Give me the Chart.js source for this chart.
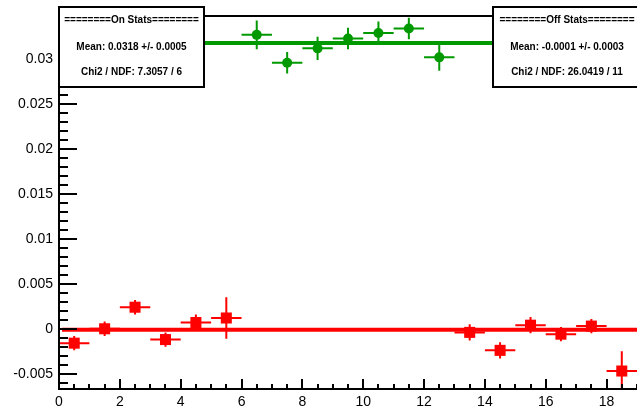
<!DOCTYPE html>
<html>
<head>
<meta charset="utf-8">
<script src="https://cdn.jsdelivr.net/npm/chart.js@4"></script>
<style>
  html, body { margin: 0; padding: 0; background: #fff; }
  canvas { display: block; }
</style>
</head>
<body>
<canvas id="statsChart" width="637" height="408"></canvas>
<script>
// "On" bins (green)
const onBins = [6.5, 7.5, 8.5, 9.5, 10.5, 11.5, 12.5];
const onValues = [0.0327, 0.0296, 0.0312, 0.0323, 0.0329, 0.0334, 0.0302];
const onErrors = [0.0016, 0.0012, 0.0013, 0.0012, 0.0013, 0.0012, 0.0015];

// "Off" bins (red)
const offBins = [0.5, 1.5, 2.5, 3.5, 4.5, 5.5, 13.5, 14.5, 15.5, 16.5, 17.5, 18.5];
const offValues = [-0.0016, 0.0000, 0.0024, -0.0012, 0.0007, 0.0012, -0.0004, -0.0024, 0.0004, -0.0006, 0.0003, -0.0047];
const offErrors = [0.0008, 0.0008, 0.0008, 0.0008, 0.0009, 0.0023, 0.0009, 0.0009, 0.0009, 0.0008, 0.0008, 0.0022];

const binHalfWidth = 0.5;

// constant fits
const onMean = 0.0318;
const offMean = -0.0001;
const fitRange = [0.1, 19];

const onStats = ["========On Stats========", "Mean: 0.0318 +/- 0.0005", "Chi2 / NDF: 7.3057 / 6"];
const offStats = ["========Off Stats========", "Mean: -0.0001 +/- 0.0003", "Chi2 / NDF: 26.0419 / 11"];

const GREEN = "#009900";
const RED = "#ff0000";
const FONT = "'Liberation Sans', Arial, sans-serif";

// error bars (no caps, like ROOT)
function drawErrors(ctx, xs, ys, errs, color, sx, sy) {
  ctx.strokeStyle = color;
  ctx.lineWidth = 2;
  xs.forEach((b, i) => {
    const px = sx.getPixelForValue(b);
    const py = sy.getPixelForValue(ys[i]);
    ctx.beginPath();
    ctx.moveTo(sx.getPixelForValue(b - binHalfWidth), py);
    ctx.lineTo(sx.getPixelForValue(b + binHalfWidth), py);
    ctx.moveTo(px, sy.getPixelForValue(ys[i] + errs[i]));
    ctx.lineTo(px, sy.getPixelForValue(ys[i] - errs[i]));
    ctx.stroke();
  });
}

function drawStatsBox(ctx, x0, y0, w, h, lines) {
  ctx.fillStyle = "#fff";
  ctx.fillRect(x0, y0, w, h);
  ctx.strokeStyle = "#000";
  ctx.lineWidth = 2;
  ctx.strokeRect(x0, y0, w, h);
  ctx.fillStyle = "#000";
  ctx.font = "bold 10px " + FONT;
  ctx.textAlign = "center";
  ctx.textBaseline = "middle";
  const rows = [13, 40, 65];
  lines.forEach((t, i) => ctx.fillText(t, x0 + w / 2, y0 + rows[i]));
}

const rootStyle = {
  id: "rootStyle",
  beforeDatasetsDraw(chart) {
    const { ctx, chartArea: a, scales } = chart;
    ctx.save();
    ctx.beginPath();
    ctx.rect(a.left, a.top, a.right - a.left, a.bottom - a.top);
    ctx.clip();
    drawErrors(ctx, offBins, offValues, offErrors, RED, scales.x, scales.y);
    drawErrors(ctx, onBins, onValues, onErrors, GREEN, scales.x, scales.y);
    ctx.restore();
  },
  afterDraw(chart) {
    const { ctx, chartArea: a, scales } = chart;
    ctx.save();
    ctx.strokeStyle = "#000";
    ctx.lineWidth = 2;
    // frame: left, bottom, top
    ctx.beginPath();
    ctx.moveTo(a.right + 2, a.top);
    ctx.lineTo(a.left, a.top);
    ctx.lineTo(a.left, a.bottom);
    ctx.lineTo(a.right + 2, a.bottom);
    ctx.stroke();

    // y ticks inside the frame
    for (let i = -6; i <= 34; i++) {
      const py = Math.round(scales.y.getPixelForValue(i / 1000));
      const len = i % 5 === 0 ? 18 : 9;
      ctx.beginPath();
      ctx.moveTo(a.left, py);
      ctx.lineTo(a.left + len, py);
      ctx.stroke();
    }
    // x ticks
    for (let i = 1; i <= 38; i++) {
      const px = Math.round(scales.x.getPixelForValue(i / 2));
      const len = i % 4 === 0 ? 10 : 5;
      ctx.beginPath();
      ctx.moveTo(px, a.bottom);
      ctx.lineTo(px, a.bottom - len);
      ctx.stroke();
    }

    drawStatsBox(ctx, 59, 7, 145, 80, onStats);
    drawStatsBox(ctx, 493, 7, 148, 80, offStats);
    ctx.restore();
  }
};

const ctx = document.getElementById("statsChart").getContext("2d");

new Chart(ctx, {
  type: "scatter",
  data: {
    datasets: [
      {
        label: "on",
        data: onBins.map((b, i) => ({ x: b, y: onValues[i] })),
        pointStyle: "circle",
        pointRadius: 5,
        backgroundColor: GREEN,
        borderColor: GREEN,
        borderWidth: 0
      },
      {
        label: "off",
        data: offBins.map((b, i) => ({ x: b, y: offValues[i] })),
        pointStyle: "rect",
        pointRadius: 7.8,
        backgroundColor: RED,
        borderColor: RED,
        borderWidth: 0
      },
      {
        label: "on fit",
        type: "line",
        data: fitRange.map(x => ({ x: x, y: onMean })),
        borderColor: GREEN,
        borderWidth: 4,
        pointRadius: 0
      },
      {
        label: "off fit",
        type: "line",
        data: fitRange.map(x => ({ x: x, y: offMean })),
        borderColor: RED,
        borderWidth: 4,
        pointRadius: 0
      }
    ]
  },
  options: {
    responsive: false,
    animation: false,
    events: [],
    layout: {
      autoPadding: false, // otherwise the marker size eats into the right edge
      padding: { top: 16, right: 0, left: 0, bottom: 0 }
    },
    plugins: {
      legend: { display: false },
      tooltip: { enabled: false }
    },
    scales: {
      x: {
        type: "linear",
        min: 0,
        max: 19,
        grid: { display: false, drawTicks: false },
        border: { display: false },
        ticks: {
          stepSize: 2,
          includeBounds: false,
          maxRotation: 0,
          autoSkip: false,
          padding: 5,
          color: "#000",
          font: { family: FONT, size: 14 },
          callback: v => String(v)
        },
        afterFit: s => {
          s.height = 19;
          s.paddingLeft = 0;
          s.paddingRight = 0;
        }
      },
      y: {
        min: -0.0067,
        max: 0.0348,
        grid: { display: false, drawTicks: false },
        border: { display: false },
        ticks: {
          stepSize: 0.005,
          includeBounds: false,
          autoSkip: false,
          padding: 6,
          color: "#000",
          font: { family: FONT, size: 14 },
          callback: v => String(parseFloat(v.toFixed(4)) || 0)
        },
        afterFit: s => { s.width = 59; }
      }
    }
  },
  plugins: [rootStyle]
});
</script>
</body>
</html>
